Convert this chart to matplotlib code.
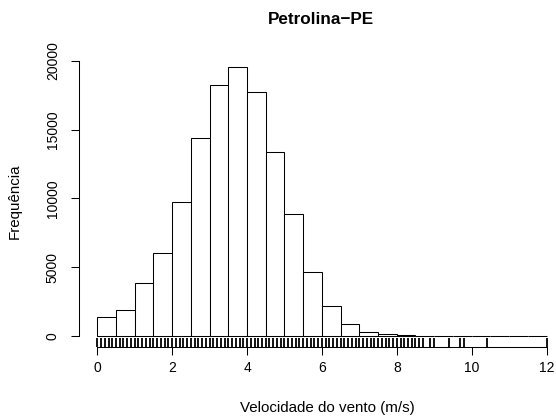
import matplotlib
matplotlib.use("Agg")
import matplotlib.pyplot as plt
import matplotlib.transforms as mtransforms

plt.rcParams['font.family'] = ['Liberation Sans', 'DejaVu Sans']

# Histogram bins (m/s) and counts
bin_edges = [0.0, 0.5, 1.0, 1.5, 2.0, 2.5, 3.0, 3.5, 4.0, 4.5, 5.0, 5.5, 6.0,
             6.5, 7.0, 7.5, 8.0, 8.5, 9.0, 9.5, 10.0, 10.5, 11.0, 11.5, 12.0]
counts = [1400, 1890, 3830, 6060, 9700, 14420, 18250, 19520, 17700, 13360,
          8870, 4680, 2180, 850, 270, 120, 60, 30, 5, 4, 1, 0, 0, 1]

# Distinct observed values drawn as a rug
rug_values = [0.0, 0.1, 0.2, 0.3, 0.4, 0.5, 0.6, 0.7, 0.8, 0.9,
              1.0, 1.1, 1.2, 1.3, 1.4, 1.5, 1.6, 1.7, 1.8, 1.9,
              2.0, 2.1, 2.2, 2.3, 2.4, 2.5, 2.6, 2.7, 2.8, 2.9,
              3.0, 3.1, 3.2, 3.3, 3.4, 3.5, 3.6, 3.7, 3.8, 3.9,
              4.0, 4.1, 4.2, 4.3, 4.4, 4.5, 4.6, 4.7, 4.8, 4.9,
              5.0, 5.1, 5.2, 5.3, 5.4, 5.5, 5.6, 5.7, 5.8, 5.9,
              6.0, 6.1, 6.2, 6.3, 6.4, 6.5, 6.6, 6.7, 6.8, 6.9,
              7.0, 7.1, 7.2, 7.3, 7.4, 7.5, 7.6, 7.7, 7.8, 7.9,
              8.0, 8.1, 8.2, 8.3, 8.4, 8.5, 8.6, 8.7,
              8.9, 9.0, 9.4, 9.7, 9.8, 10.4, 12.0]

x_ticks = [0, 2, 4, 6, 8, 10, 12]
y_ticks = [0, 5000, 10000, 15000, 20000]

title = "Petrolina\u2212PE"
xlabel = "Velocidade do vento (m/s)"
ylabel = "Frequência"

W, H = 556, 418
fig = plt.figure(figsize=(W / 100, H / 100), dpi=100)
left, right, top, bottom = 79.3, 564.5, 56.6, 346.7
ax = fig.add_axes([left / W, (H - bottom) / H, (right - left) / W, (bottom - top) / H])

lefts = bin_edges[:-1]
widths = [b - a for a, b in zip(bin_edges[:-1], bin_edges[1:])]
ax.bar(lefts, counts, width=widths, align='edge', facecolor='white',
       edgecolor='black', linewidth=0.75)

ymax = max(counts)
ax.set_xlim(-0.04 * 12, 12 * 1.04)
ax.set_ylim(-0.04 * ymax, 1.04 * ymax)

trans = mtransforms.blended_transform_factory(ax.transData, ax.transAxes)
ax.vlines(rug_values, 0, 0.03, transform=trans, color='black', linewidth=1.3)

for s in ['top', 'right']:
    ax.spines[s].set_visible(False)
ax.spines['bottom'].set_bounds(0, 12)
ax.spines['left'].set_bounds(0, 20000)
ax.spines['bottom'].set_linewidth(0.75)
ax.spines['left'].set_linewidth(0.75)

ax.set_xticks(x_ticks)
ax.set_xticklabels([str(v) for v in x_ticks])
ax.set_yticks(y_ticks)
ax.set_yticklabels([str(v) for v in y_ticks], rotation=90, va='center')
ax.tick_params(axis='both', direction='out', length=6, width=0.75, labelsize=10)
ax.tick_params(axis='x', pad=4.5)
ax.tick_params(axis='y', pad=8)

fig.text(321 / W, 1 - 20 / H, title, ha='center', va='center',
         fontsize=12.3, fontweight='bold')
fig.text(327 / W, 1 - 408 / H, xlabel, ha='center', va='center', fontsize=10.9)
fig.text(15 / W, 1 - 201 / H, ylabel, ha='center', va='center', fontsize=10.9,
         rotation=90)

fig.savefig("out.png", dpi=100)
